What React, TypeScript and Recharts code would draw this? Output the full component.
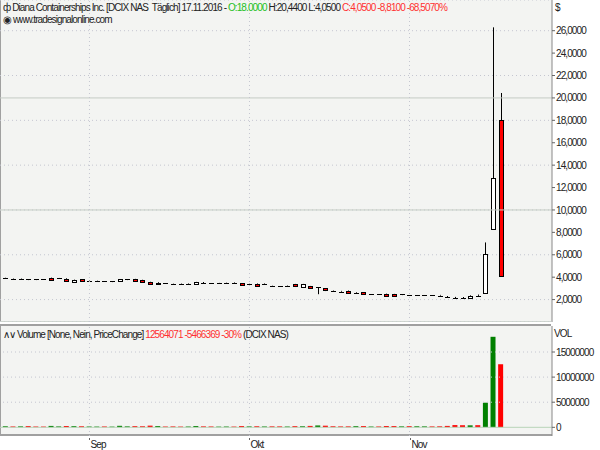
import { ComposedChart, Bar, XAxis, YAxis, CartesianGrid, ReferenceLine, Cell } from "recharts";

const dates = [
    "17.08.2016", "18.08.2016", "19.08.2016", "22.08.2016", "23.08.2016", "24.08.2016", "25.08.2016", "26.08.2016", "29.08.2016", "30.08.2016", "31.08.2016",
    "01.09.2016", "02.09.2016", "06.09.2016", "07.09.2016", "08.09.2016", "09.09.2016", "12.09.2016", "13.09.2016", "14.09.2016", "15.09.2016", "16.09.2016",
    "19.09.2016", "20.09.2016", "21.09.2016", "22.09.2016", "23.09.2016", "26.09.2016", "27.09.2016", "28.09.2016", "29.09.2016", "30.09.2016", "03.10.2016",
    "04.10.2016", "05.10.2016", "06.10.2016", "07.10.2016", "10.10.2016", "11.10.2016", "12.10.2016", "13.10.2016", "14.10.2016", "17.10.2016", "18.10.2016",
    "19.10.2016", "20.10.2016", "21.10.2016", "24.10.2016", "25.10.2016", "26.10.2016", "27.10.2016", "28.10.2016", "31.10.2016", "01.11.2016", "02.11.2016",
    "03.11.2016", "04.11.2016", "07.11.2016", "08.11.2016", "09.11.2016", "10.11.2016", "11.11.2016", "14.11.2016", "15.11.2016", "16.11.2016", "17.11.2016",
];

const opens = [
    3.92, 3.88, 3.87, 3.82, 3.81, 3.80, 3.95, 3.92, 3.88, 3.58, 3.80,
    3.68, 3.68, 3.62, 3.63, 3.62, 3.82, 3.84, 3.76, 3.58, 3.40, 3.46,
    3.41, 3.39, 3.40, 3.34, 3.52, 3.46, 3.45, 3.50, 3.47, 3.45, 3.37,
    3.42, 3.38, 3.23, 3.17, 3.20, 3.38, 3.14, 3.20, 3.10, 3.00, 2.76,
    2.71, 2.80, 2.63, 2.64, 2.48, 2.47, 2.52, 2.50, 2.47, 2.39, 2.40,
    2.40, 2.38, 2.36, 2.25, 2.17, 2.16, 2.16, 2.34, 2.56, 8.30, 18.00,
];

const highs = [
    3.95, 3.90, 3.89, 3.83, 3.82, 3.81, 3.96, 3.93, 3.90, 3.78, 3.81,
    3.70, 3.69, 3.64, 3.64, 3.82, 3.83, 3.85, 3.77, 3.59, 3.55, 3.47,
    3.42, 3.43, 3.44, 3.58, 3.57, 3.47, 3.49, 3.51, 3.53, 3.47, 3.41,
    3.44, 3.44, 3.24, 3.18, 3.25, 3.40, 3.40, 3.22, 3.12, 3.02, 2.81,
    2.78, 2.81, 2.65, 2.65, 2.49, 2.48, 2.53, 2.51, 2.48, 2.40, 2.41,
    2.41, 2.39, 2.42, 2.32, 2.24, 2.23, 2.38, 2.45, 7.10, 26.30, 20.44,
];

const lows = [
    3.85, 3.86, 3.85, 3.74, 3.74, 3.78, 3.78, 3.84, 3.66, 3.56, 3.60,
    3.66, 3.60, 3.60, 3.56, 3.60, 3.74, 3.64, 3.56, 3.38, 3.36, 3.44,
    3.39, 3.35, 3.36, 3.33, 3.47, 3.44, 3.41, 3.48, 3.46, 3.24, 3.33,
    3.22, 3.37, 3.21, 3.15, 3.14, 3.12, 3.12, 2.98, 2.48, 2.76, 2.70,
    2.70, 2.60, 2.50, 2.44, 2.46, 2.45, 2.32, 2.30, 2.40, 2.38, 2.38,
    2.39, 2.37, 2.35, 2.20, 2.10, 2.10, 2.14, 2.33, 2.50, 8.28, 4.05,
];

const closes = [
    3.91, 3.87, 3.88, 3.81, 3.80, 3.79, 3.80, 3.91, 3.68, 3.76, 3.62,
    3.67, 3.67, 3.61, 3.62, 3.80, 3.81, 3.66, 3.58, 3.40, 3.52, 3.45,
    3.40, 3.39, 3.40, 3.55, 3.52, 3.45, 3.45, 3.49, 3.48, 3.26, 3.37,
    3.24, 3.39, 3.22, 3.17, 3.20, 3.16, 3.37, 3.00, 3.08, 2.78, 2.75,
    2.72, 2.62, 2.62, 2.46, 2.48, 2.47, 2.34, 2.32, 2.46, 2.39, 2.39,
    2.40, 2.38, 2.36, 2.25, 2.16, 2.15, 2.36, 2.35, 6.06, 12.86, 4.05,
];

const volumes = [
    210000, 170000, 190000, 240000, 160000, 150000, 280000, 180000, 260000, 230000, 210000,
    160000, 150000, 170000, 140000, 300000, 190000, 230000, 210000, 330000, 250000, 160000,
    180000, 150000, 160000, 260000, 190000, 170000, 140000, 160000, 150000, 250000, 180000,
    210000, 170000, 190000, 185000, 160000, 230000, 210000, 280000, 370000, 320000, 210000,
    180000, 190000, 230000, 250000, 160000, 170000, 260000, 250000, 190000, 230000, 210000,
    190000, 180000, 200000, 280000, 440000, 410000, 390000, 420000, 4900000, 18030440, 12564071,
];

const monthLabels: Record<string, string> = { "09": "Sep", "10": "Okt", "11": "Nov" };

const priceTicks = [2, 4, 6, 8, 10, 12, 14, 16, 18, 20, 22, 24, 26];
const volumeTicks = [0, 5000000, 10000000, 15000000];

const FONT = '"Liberation Sans", Arial, sans-serif';
const TIGHT = "-0.9px";
const BG = "#f3f4f2";
const DOT = "#c4c6d0";

const rows = dates.map((d, i) => ({
    idx: i,
    date: d,
    open: opens[i],
    high: highs[i],
    low: lows[i],
    close: closes[i],
    vol: volumes[i],
    up: i === 0 ? true : closes[i] >= closes[i - 1],
}));

const monthTicks = rows
    .filter((r, i) => i > 0 && r.date.slice(3, 5) !== rows[i - 1].date.slice(3, 5))
    .map((r) => r.idx);

const X_DOMAIN = [-0.74, 71.7];

const Candle = (props: any) => {
    const { x, y, width, height, payload } = props;
    const { open, close, high, low } = payload;
    const unit = height / (high - low);
    const yO = y + (high - open) * unit;
    const yC = y + (high - close) * unit;
    const cx = Math.round(x + width / 2) + 0.5;
    const top = Math.round(Math.min(yO, yC)) + 0.5;
    const h = Math.round(Math.abs(yO - yC));
    const up = close >= open;
    return (
        <g>
            <line x1={cx} x2={cx} y1={y} y2={y + height} stroke="#000" />
            {h < 1 ? (
                <line x1={cx - 2.5} x2={cx + 2.5} y1={top} y2={top} stroke="#000" />
            ) : (
                <rect x={cx - 2} y={top} width={4} height={h} fill={up ? "#ffffff" : "#ff0000"} stroke="#000" />
            )}
        </g>
    );
};

const MonthTick = (props: any) => {
    const { x, y, payload } = props;
    const r = rows[payload.value];
    const px = Math.round(x) + 0.5;
    return (
        <g>
            <line x1={px} x2={px} y1={y + 2} y2={y + 4} stroke="#666" />
            <text x={px + 1} y={y + 12} fontSize={10} fontFamily={FONT} fill="#222" style={{ letterSpacing: TIGHT }}>
                {monthLabels[r.date.slice(3, 5)]}
            </text>
        </g>
    );
};

const fmtPrice = (v: number) => v.toFixed(4).replace(".", ",");

const axisTick = { fontSize: 10, fontFamily: FONT, fill: "#222", style: { letterSpacing: TIGHT } };

const abs = (left: number, top: number, extra: any = {}) => ({
    position: "absolute" as const,
    left,
    top,
    ...extra,
});

export default function App() {
    return (
        <div style={abs(0, 0, { width: 600, height: 450, background: "#fff", fontFamily: FONT, fontSize: 10, letterSpacing: TIGHT, color: "#222", overflow: "hidden" })}>
            <div style={abs(0, 0, { width: 551, height: 321, background: BG, borderLeft: "1px solid #a0a0a0" })} />
            <div style={abs(0, 321, { width: 551, height: 1, background: "#cfd6cf" })} />
            <div style={abs(0, 324, { width: 551, height: 2, background: "#a0a0a0" })} />
            <div style={abs(0, 326, { width: 551, height: 108, background: BG, borderLeft: "1px solid #a0a0a0" })} />
            <div style={abs(0, 434, { width: 552, height: 2, background: "#a0a0a0" })} />

            <ComposedChart
                width={600}
                height={322}
                data={rows}
                margin={{ top: 0, right: 0, bottom: 0, left: 0 }}
                style={abs(0, 0)}
            >
                <CartesianGrid vertical={false} stroke={DOT} strokeDasharray="1 3" />
                <XAxis dataKey="idx" type="number" domain={X_DOMAIN} allowDataOverflow hide />
                <YAxis
                    orientation="right"
                    width={48}
                    domain={[0, 28.74]}
                    ticks={priceTicks}
                    allowDataOverflow
                    tickFormatter={fmtPrice}
                    tick={axisTick}
                    tickSize={3}
                    tickMargin={1}
                    stroke="#888"
                    tickLine={{ stroke: "#666" }}
                />
                <ReferenceLine y={10} stroke="#c4ccc4" />
                <ReferenceLine y={20} stroke="#c4ccc4" />
                {monthTicks.map((t) => (
                    <ReferenceLine key={t} x={t} stroke={DOT} strokeDasharray="1 3" />
                ))}
                <Bar
                    dataKey={(d: any) => [d.low, d.high]}
                    barSize={5}
                    shape={<Candle />}
                    isAnimationActive={false}
                />
            </ComposedChart>

            <ComposedChart
                width={600}
                height={124}
                data={rows}
                margin={{ top: 0, right: 0, bottom: 0, left: 0 }}
                style={abs(0, 326)}
            >
                <XAxis
                    dataKey="idx"
                    type="number"
                    domain={X_DOMAIN}
                    allowDataOverflow
                    ticks={monthTicks}
                    tick={<MonthTick />}
                    tickLine={false}
                    axisLine={false}
                    tickSize={0}
                    tickMargin={0}
                    height={14}
                    interval={0}
                />
                <YAxis
                    orientation="right"
                    width={48}
                    domain={[-1730000, 20180000]}
                    ticks={volumeTicks}
                    allowDataOverflow
                    tick={axisTick}
                    tickSize={3}
                    tickMargin={1}
                    stroke="#888"
                    tickLine={{ stroke: "#666" }}
                />
                {volumeTicks.slice(1).map((v) => (
                    <ReferenceLine key={v} y={v} stroke={DOT} strokeDasharray="1 3" />
                ))}
                <ReferenceLine y={0} stroke="#b8d4b8" />
                {monthTicks.map((t) => (
                    <ReferenceLine key={t} x={t} stroke={DOT} strokeDasharray="1 3" />
                ))}
                <Bar dataKey="vol" barSize={5} isAnimationActive={false}>
                    {rows.map((r) => (
                        <Cell key={r.idx} fill={r.up ? "#008000" : "#ff0000"} />
                    ))}
                </Bar>
            </ComposedChart>

            <div style={abs(3, 2, { whiteSpace: "nowrap", lineHeight: "12px" })}>
                <span>ф Diana Containerships Inc. [DCIX NAS&nbsp;&nbsp;Täglich] 17.11.2016 - </span>
                <span style={{ color: "#22c022" }}>O:18.0000</span>
                <span> H:20,4400 L:4,0500 </span>
                <span style={{ color: "#ff3030" }}>C:4,0500 -8,8100 -68,5070%</span>
            </div>
            <div style={abs(3, 14, { whiteSpace: "nowrap", lineHeight: "12px" })}>◉ www.tradesignalonline.com</div>
            <div style={abs(555, 2, { lineHeight: "12px" })}>$</div>

            <div style={abs(3, 329, { whiteSpace: "nowrap", lineHeight: "12px" })}>
                <span>∧∨ Volume [None, Nein, PriceChange] </span>
                <span style={{ color: "#ff3030" }}>12564071 -5466369 -30%</span>
                <span> (DCIX NAS)</span>
            </div>
            <div style={abs(554, 328, { lineHeight: "12px" })}>VOL</div>
        </div>
    );
}
